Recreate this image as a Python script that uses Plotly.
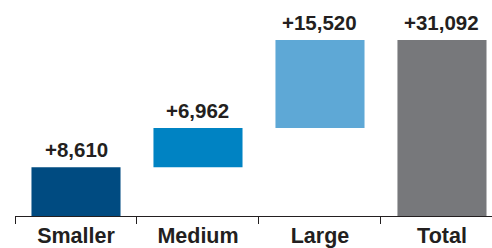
import plotly.graph_objects as go
import numpy as np

categories = ["Smaller", "Medium", "Large", "Total"]
changes = [8610, 6962, 15520]
labels = ["+8,610", "+6,962", "+15,520", "+31,092"]
colors = ["#004B81", "#0083C3", "#5EA8D6", "#77787B"]

total = sum(changes)
cum = np.cumsum([0] + changes)
bases = list(cum[:-1]) + [0]
heights = changes + [total]
tops = [b + h for b, h in zip(bases, heights)]

FONT = "Liberation Sans, Arial, sans-serif"
TXT = "#231F20"

fig = go.Figure()
fig.add_trace(go.Bar(
    x=categories,
    y=heights,
    base=bases,
    width=0.73,
    marker=dict(color=colors, line=dict(width=0)),
    hoverinfo="skip",
))

for c, t, lab in zip(categories, tops, labels):
    fig.add_annotation(
        x=c, y=t, text=lab, showarrow=False,
        xanchor="center", yanchor="bottom", yshift=4,
        font=dict(family=FONT, size=20.5, color=TXT, weight="bold"),
    )

fig.update_layout(
    width=492, height=248,
    margin=dict(l=15, r=0, t=0, b=32),
    plot_bgcolor="white", paper_bgcolor="white",
    showlegend=False,
    font=dict(family=FONT, color=TXT),
    xaxis=dict(
        range=[-0.5, 3.41],
        showline=True, linecolor=TXT, linewidth=1,
        ticks="outside", tickson="boundaries", ticklen=7, tickcolor=TXT, tickwidth=1,
        tickfont=dict(size=21.5, color=TXT, weight="bold"),
        ticklabelstandoff=0,
        showgrid=False, zeroline=False, automargin=False,
    ),
    yaxis=dict(
        range=[0, 38175],
        visible=False, showgrid=False, zeroline=False,
    ),
)

fig.write_html(
    "out.html",
    config={"displayModeBar": False, "staticPlot": True},
    post_script="document.body.style.margin='0';document.body.style.overflow='hidden';",
)
